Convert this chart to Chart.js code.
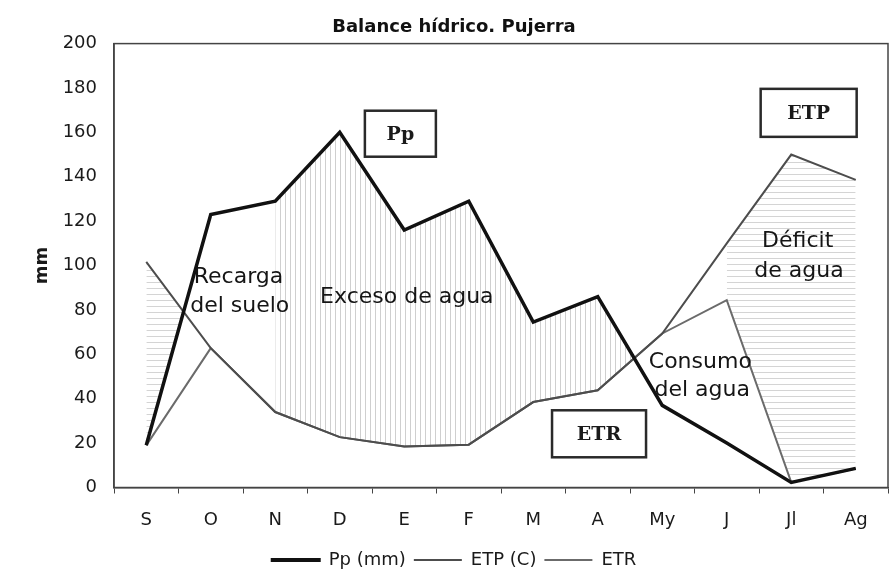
<!DOCTYPE html>
<html>
<head>
<meta charset="utf-8">
<title>Balance hídrico. Pujerra</title>
<script src="https://cdn.jsdelivr.net/npm/chart.js@4/dist/chart.umd.min.js"></script>
<style>
  html, body { margin: 0; padding: 0; background: #fff; }
  #ctx { display: block; }
</style>
</head>
<body>
<canvas id="ctx" width="891" height="585"></canvas>
<script>
const months = ['S', 'O', 'N', 'D', 'E', 'F', 'M', 'A', 'My', 'J', 'Jl', 'Ag'];
const ppValues = [19, 123, 129, 160, 116, 129, 74.5, 86, 37, 20, 2.3, 8.6];
const etpValues = [101.7, 62.8, 34, 22.7, 18.5, 19.3, 38.5, 43.8, 69.4, 110, 150, 138.6];
const etrValues = [19, 62.8, 34, 22.7, 18.5, 19.3, 38.5, 43.8, 69.4, 84.4, 2.3, 8.6];
const seriesLabels = ['Pp (mm)', 'ETP (C)', 'ETR'];
const yMax = 200;
const yStep = 20;

// helper boundaries for the shaded zones (taken from the series above)
const excessBase = etpValues.map((v, i) => (i >= 2 ? v : null));   // from N on
const rechargePp = ppValues.map((v, i) => (i <= 1 ? v : null));   // S-O
const deficitTop = etpValues.map((v, i) => (i >= 9 ? v : null));   // from J on

const canvas = document.getElementById('ctx');
const mainCtx = canvas.getContext('2d');

function hatch(vertical, gap, color) {
  const c = document.createElement('canvas');
  c.width = gap;
  c.height = gap;
  const g = c.getContext('2d');
  g.fillStyle = color;
  if (vertical) g.fillRect(0, 0, 1, gap);
  else g.fillRect(0, 0, gap, 1);
  return mainCtx.createPattern(c, 'repeat');
}

const vHatch = hatch(true, 5, '#cfcfcf');
const hHatch = hatch(false, 6, '#d4d4d4');
const none = 'rgba(0,0,0,0)';

const helper = (data, fill) => ({
  label: '',
  data: data,
  borderColor: none,
  backgroundColor: none,
  borderWidth: 0,
  pointRadius: 0,
  fill: fill,
});

// region labels and boxed labels, placed with the chart scales
const notesPlugin = {
  id: 'notes',
  afterDatasetsDraw(chart) {
    const { ctx, chartArea, scales: { x, y } } = chart;
    ctx.save();
    ctx.lineWidth = 1.5;
    ctx.strokeStyle = '#444';
    ctx.strokeRect(chartArea.left, chartArea.top, chartArea.right - chartArea.left, chartArea.bottom - chartArea.top);

    ctx.textAlign = 'center';
    ctx.textBaseline = 'middle';
    ctx.fillStyle = '#151515';
    ctx.font = '22px "DejaVu Sans"';
    [
      ['Recarga', 1.43, 94.5],
      ['del suelo', 1.45, 81.5],
      ['Exceso de agua', 4.04, 85.5],
      ['Consumo', 8.59, 56.5],
      ['del agua', 8.62, 44],
      ['Déficit', 10.1, 111],
      ['de agua', 10.12, 97.5],
    ].forEach(([t, i, v]) => ctx.fillText(t, x.getPixelForValue(i), y.getPixelForValue(v)));

    ctx.font = 'bold 19px "DejaVu Serif"';
    [
      ['Pp', 3.94, 159.4, 71, 46],
      ['ETP', 10.27, 168.8, 96, 48],
      ['ETR', 7.02, 24.2, 94, 47],
    ].forEach(([t, i, v, w, h]) => {
      const px = x.getPixelForValue(i);
      const py = y.getPixelForValue(v);
      ctx.fillStyle = '#fff';
      ctx.fillRect(px - w / 2, py - h / 2, w, h);
      ctx.lineWidth = 2.5;
      ctx.strokeStyle = '#2a2a2a';
      ctx.strokeRect(px - w / 2, py - h / 2, w, h);
      ctx.fillStyle = '#1a1a1a';
      ctx.fillText(t, px, py + 1);
    });
    ctx.restore();
  },
};

Chart.defaults.font.family = '"DejaVu Sans", sans-serif';
Chart.defaults.color = '#1a1a1a';

new Chart(canvas, {
  type: 'line',
  data: {
    labels: months,
    datasets: [
      {
        label: seriesLabels[0],
        data: ppValues,
        borderColor: '#111',
        backgroundColor: '#111',
        borderWidth: 3.5,
        pointRadius: 0,
        fill: { target: 3, above: vHatch, below: none },
      },
      {
        label: seriesLabels[1],
        data: etpValues,
        borderColor: '#4d4d4d',
        backgroundColor: '#4d4d4d',
        borderWidth: 2,
        pointRadius: 0,
        fill: { target: 4, above: hHatch, below: none },
      },
      {
        label: seriesLabels[2],
        data: etrValues,
        borderColor: '#6b6b6b',
        backgroundColor: '#6b6b6b',
        borderWidth: 2,
        pointRadius: 0,
        fill: false,
      },
      helper(excessBase, false),
      helper(rechargePp, false),
      helper(deficitTop, { target: 2, above: hHatch, below: none }),
    ],
  },
  options: {
    responsive: false,
    animation: false,
    devicePixelRatio: 1,
    layout: { padding: { left: 20, right: 3, top: 0, bottom: 6 } },
    elements: { line: { tension: 0 } },
    scales: {
      x: {
        offset: true,
        grid: { display: true, drawOnChartArea: false, drawTicks: true, tickLength: 6, offset: true, color: '#444' },
        border: { display: true, color: '#444', width: 1.5 },
        ticks: { font: { size: 18 }, color: '#1a1a1a', padding: 16, maxRotation: 0, autoSkip: false },
        afterFit: (scale) => { scale.height = 55.5; },
      },
      y: {
        min: 0,
        max: yMax,
        grid: { display: false, drawTicks: false },
        border: { display: true, color: '#444', width: 1.5 },
        ticks: { stepSize: yStep, font: { size: 18 }, color: '#1a1a1a', padding: 17 },
        title: { display: true, text: 'mm', font: { size: 18, weight: 'bold' }, color: '#1a1a1a', padding: { top: 12, bottom: 0 } },
        afterFit: (scale) => { scale.width = 94; },
      },
    },
    plugins: {
      filler: { propagate: true, drawTime: 'beforeDatasetsDraw' },
      tooltip: { enabled: false },
      title: {
        display: true,
        text: 'Balance hídrico. Pujerra',
        font: { size: 18, weight: 'bold' },
        color: '#111',
        padding: { top: 17, bottom: 5 },
      },
      legend: {
        position: 'bottom',
        labels: {
          font: { size: 18 },
          color: '#1a1a1a',
          boxWidth: 48,
          boxHeight: 2,
          padding: 8,
          generateLabels: (chart) =>
            Chart.defaults.plugins.legend.labels.generateLabels(chart)
              .filter((item) => item.datasetIndex < 3)
              .map((item) => ({ ...item, fillStyle: item.strokeStyle, lineWidth: item.datasetIndex === 0 ? 2 : 0 })),
        },
      },
    },
  },
  plugins: [notesPlugin],
});
</script>
</body>
</html>
